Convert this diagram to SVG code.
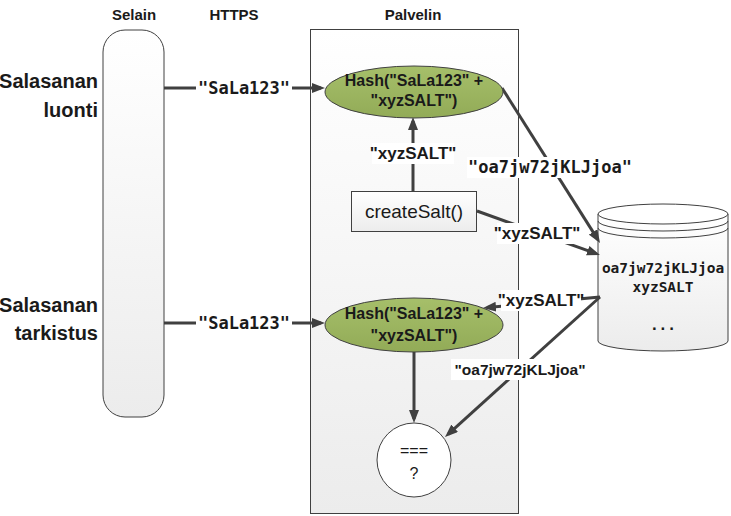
<svg xmlns="http://www.w3.org/2000/svg" width="731" height="516" viewBox="0 0 731 516">
<defs>
<linearGradient id="gv" x1="0" y1="0" x2="0" y2="1">
<stop offset="0" stop-color="#ffffff"/>
<stop offset="1" stop-color="#ececec"/>
</linearGradient>
<linearGradient id="gg" x1="0" y1="0" x2="0" y2="1">
<stop offset="0" stop-color="#a6bf6a"/>
<stop offset="1" stop-color="#92ab57"/>
</linearGradient>
<marker id="ah" viewBox="0 0 13 10" markerWidth="13" markerHeight="10" refX="9" refY="5" orient="auto" markerUnits="userSpaceOnUse">
<path d="M0,0 L13,5 L0,10 z" fill="#404040"/>
</marker>
</defs>
<style>
.hd{font-family:"Liberation Sans",Arial,sans-serif;font-weight:bold;font-size:15px;fill:#1a1a1a;text-anchor:middle}
.big{font-family:"Liberation Sans",Arial,sans-serif;font-weight:bold;font-size:20px;fill:#1a1a1a;text-anchor:end}
.mono{font-family:"DejaVu Sans Mono","Liberation Mono",monospace;font-weight:bold;font-size:17px;fill:#1a1a1a;text-anchor:middle}
.lbl{font-family:"Liberation Sans",Arial,sans-serif;font-weight:bold;font-size:17px;fill:#1a1a1a;text-anchor:middle}
.ht{font-family:"Liberation Sans",Arial,sans-serif;font-weight:bold;font-size:16px;fill:#1a1a1a;text-anchor:middle}
.ht2{font-family:"Liberation Sans",Arial,sans-serif;font-weight:bold;font-size:15.5px;fill:#1a1a1a;text-anchor:middle}
.reg{font-family:"Liberation Sans",Arial,sans-serif;font-size:19px;fill:#1a1a1a;text-anchor:middle}
.dbt{font-family:"DejaVu Sans Mono","Liberation Mono",monospace;font-weight:bold;font-size:14.5px;fill:#1a1a1a;text-anchor:middle}
.cmp{font-family:"Liberation Sans",Arial,sans-serif;font-size:16px;fill:#1a1a1a;text-anchor:middle}
.shape{stroke:#404040;stroke-width:1}
.conn line{stroke:#404040;stroke-width:3}
.bg{fill:#ffffff}
</style>
<rect width="731" height="516" fill="#ffffff"/>

<g id="headers">
<text class="hd" x="134" y="20">Selain</text>
<text class="hd" x="234" y="20">HTTPS</text>
<text class="hd" x="413" y="20">Palvelin</text>
</g>

<g id="row-labels">
<text class="big" x="98" y="88">Salasanan</text>
<text class="big" x="98" y="117">luonti</text>
<text class="big" x="98" y="312">Salasanan</text>
<text class="big" x="98" y="340">tarkistus</text>
</g>

<g id="selain">
<rect class="shape" x="103" y="30" width="61" height="387" rx="22" ry="22" fill="url(#gv)"/>
</g>

<g id="palvelin">
<rect class="shape" x="310.5" y="29.5" width="208" height="484" fill="url(#gv)"/>
</g>

<g id="db">
<path class="shape" d="M598,214 L598,341 A65,10 0 0 0 728,341 L728,214" fill="url(#gv)"/>
<ellipse class="shape" cx="663" cy="214" rx="65" ry="10" fill="#ffffff"/>
<path class="shape" d="M598,221 A65,10 0 0 0 728,221" fill="none"/>
<path class="shape" d="M598,228 A65,10 0 0 0 728,228" fill="none"/>
<text class="dbt" x="663" y="273">oa7jw72jKLJjoa</text>
<text class="dbt" x="663" y="292">xyzSALT</text>
<text class="dbt" x="663" y="330">...</text>
</g>

<g id="connectors" class="conn">
<line x1="164" y1="88" x2="321" y2="88" marker-end="url(#ah)"/>
<line x1="164" y1="323" x2="321" y2="323" marker-end="url(#ah)"/>
<line x1="413" y1="191" x2="413" y2="121" marker-end="url(#ah)"/>
<line x1="477" y1="211" x2="596.2" y2="253.7" marker-end="url(#ah)"/>
<line x1="502" y1="88" x2="597.9" y2="239.6" marker-end="url(#ah)"/>
<line x1="600" y1="297" x2="487" y2="307.6" marker-end="url(#ah)"/>
<line x1="600" y1="297" x2="448" y2="434.3" marker-end="url(#ah)"/>
<line x1="414" y1="352" x2="414" y2="419" marker-end="url(#ah)"/>
<rect class="bg" x="196" y="78" width="96" height="20"/>
<text class="mono" x="244" y="94">"SaLa123"</text>
<rect class="bg" x="196" y="313" width="96" height="20"/>
<text class="mono" x="244" y="329">"SaLa123"</text>
<rect class="bg" x="372" y="143" width="82" height="21"/>
<text class="lbl" x="413" y="159">"xyzSALT"</text>
<rect class="bg" x="467" y="157" width="166" height="21"/>
<text class="mono" x="550" y="173">"oa7jw72jKLJjoa"</text>
<rect class="bg" x="497" y="223" width="81" height="21"/>
<text class="lbl" x="537" y="239">"xyzSALT"</text>
<rect class="bg" x="501" y="290" width="80" height="21"/>
<text class="lbl" x="541" y="306">"xyzSALT"</text>
<rect class="bg" x="451" y="359" width="139" height="21"/>
<text class="ht2" x="520" y="375">"oa7jw72jKLJjoa"</text>
</g>

<g id="hash1">
<ellipse class="shape" cx="414" cy="92" rx="89" ry="26" fill="url(#gg)"/>
<text class="ht" x="414" y="86">Hash("SaLa123" +</text>
<text class="ht" x="414" y="106">"xyzSALT")</text>
</g>

<g id="createSalt">
<rect class="shape" x="351.5" y="191.5" width="125" height="40" fill="url(#gv)"/>
<text class="reg" x="414" y="218">createSalt()</text>
</g>

<g id="hash2">
<ellipse class="shape" cx="414" cy="325" rx="89" ry="27" fill="url(#gg)"/>
<text class="ht" x="414" y="319">Hash("SaLa123" +</text>
<text class="ht" x="414" y="341">"xyzSALT")</text>
</g>

<g id="compare">
<circle class="shape" cx="414" cy="460" r="37" fill="#ffffff"/>
<text class="cmp" x="414" y="456">===</text>
<text class="cmp" x="414" y="479">?</text>
</g>
</svg>
